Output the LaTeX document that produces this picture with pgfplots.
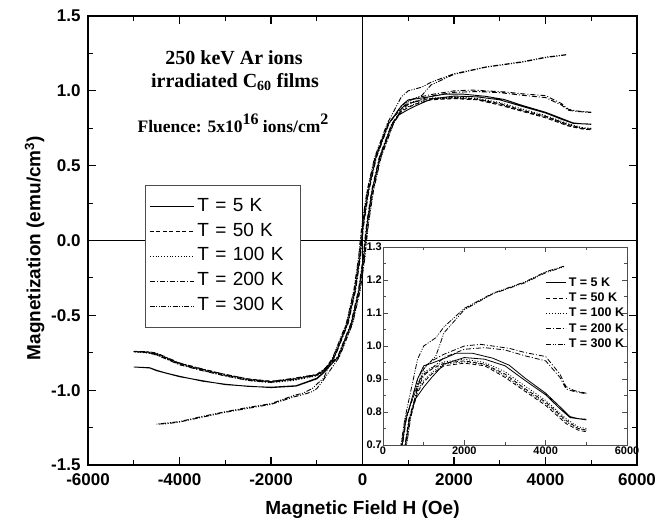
\documentclass[border=0pt]{standalone}
\usepackage{fontspec}
\setmainfont{Liberation Sans}
\newfontfamily\timesf{Liberation Serif}
\usepackage{pgfplots}
\pgfplotsset{compat=1.18}
\usepackage{pgfplotstable}

% hysteresis loops, each table = down branch then up branch
\pgfplotstableread{
x y
5000 0.778
4800 0.780
4600 0.786
4350 0.816
4000 0.857
3500 0.902
3100 0.942
2700 0.963
2200 0.978
1800 0.978
1500 0.962
1200 0.948
1000 0.940
850 0.900
565 0.778
295 0.555
130 0.333
20 0.111
-20 0.000
-55 -0.111
-160 -0.333
-325 -0.555
-615 -0.778
-850 -0.880
-1000 -0.920
-1450 -0.970
-2000 -0.980
-2500 -0.975
-3000 -0.960
-3500 -0.940
-4000 -0.907
-4300 -0.885
-4500 -0.867
-4650 -0.850
-5000 -0.845
-4650 -0.852
-4500 -0.870
-4000 -0.910
-3000 -0.963
-2000 -0.983
-1450 -0.973
-1000 -0.925
-850 -0.885
-535 -0.778
-245 -0.555
-80 -0.333
25 -0.111
60 0.000
100 0.111
210 0.333
375 0.555
645 0.778
800 0.840
1000 0.875
1200 0.905
1500 0.945
2000 0.965
2500 0.960
3000 0.940
3500 0.895
4000 0.852
4350 0.810
4600 0.783
5000 0.776
}\tfive

\pgfplotstableread{
x y
5000 0.745
4800 0.750
4500 0.775
4000 0.830
3500 0.870
3000 0.915
2500 0.945
2000 0.955
1500 0.948
1200 0.930
1000 0.915
850 0.880
545 0.778
275 0.555
110 0.333
0 0.111
-40 0
-75 -0.111
-180 -0.333
-345 -0.555
-635 -0.778
-850 -0.870
-1000 -0.900
-1500 -0.930
-2000 -0.945
-2500 -0.930
-3000 -0.900
-3500 -0.865
-4000 -0.825
-4500 -0.760
-4700 -0.750
-5000 -0.740
-4700 -0.745
-4500 -0.755
-4000 -0.820
-3500 -0.860
-3000 -0.895
-2500 -0.925
-2000 -0.940
-1500 -0.925
-1000 -0.895
-850 -0.865
-515 -0.778
-225 -0.555
-60 -0.333
45 -0.111
80 0
120 0.111
230 0.333
395 0.555
665 0.778
850 0.860
1000 0.890
1200 0.915
1500 0.940
2000 0.948
2500 0.940
3000 0.905
3500 0.862
4000 0.820
4500 0.765
4800 0.745
5000 0.740
}\tfifty

\pgfplotstableread{
x y
5000 0.750
4800 0.755
4500 0.780
4000 0.835
3500 0.878
3000 0.922
2500 0.950
2000 0.960
1500 0.952
1200 0.935
1000 0.920
850 0.885
555 0.778
285 0.555
120 0.333
10 0.111
-30 0
-65 -0.111
-170 -0.333
-335 -0.555
-625 -0.778
-850 -0.875
-1000 -0.905
-1500 -0.935
-2000 -0.950
-2500 -0.935
-3000 -0.905
-3500 -0.868
-4000 -0.828
-4500 -0.765
-4700 -0.752
-5000 -0.745
-4700 -0.748
-4500 -0.758
-4000 -0.822
-3500 -0.862
-3000 -0.898
-2500 -0.928
-2000 -0.943
-1500 -0.928
-1000 -0.898
-850 -0.868
-525 -0.778
-235 -0.555
-70 -0.333
35 -0.111
70 0
110 0.111
220 0.333
385 0.555
655 0.778
850 0.865
1000 0.895
1200 0.920
1500 0.945
2000 0.952
2500 0.944
3000 0.910
3500 0.866
4000 0.825
4500 0.770
4800 0.750
5000 0.745
}\thundred

\pgfplotstableread{
x y
5000 0.857
4700 0.865
4500 0.877
4350 0.915
4000 0.968
3500 0.980
3100 0.993
2400 1.005
2000 1.000
1500 0.975
1200 0.955
1000 0.935
850 0.900
575 0.778
305 0.555
140 0.333
30 0.111
-10 0
-45 -0.111
-150 -0.333
-315 -0.555
-605 -0.778
-850 -0.870
-1000 -0.900
-1500 -0.925
-2000 -0.948
-2500 -0.935
-3000 -0.905
-3500 -0.870
-4000 -0.830
-4500 -0.765
-4700 -0.748
-5000 -0.742
-4700 -0.742
-4500 -0.752
-4000 -0.818
-3500 -0.858
-3000 -0.895
-2500 -0.925
-2000 -0.942
-1500 -0.920
-1000 -0.895
-850 -0.862
-545 -0.778
-255 -0.555
-90 -0.333
15 -0.111
50 0
90 0.111
200 0.333
365 0.555
635 0.778
850 0.870
1000 0.910
1500 0.965
2000 0.990
2500 0.995
3000 0.988
3500 0.970
4000 0.955
4350 0.905
4500 0.870
4700 0.862
5000 0.855
}\ttwohundred

\pgfplotstableread{
x y
4450 1.242
4000 1.225
3500 1.195
2700 1.160
2000 1.114
1500 1.058
1300 1.025
1000 1.000
850 0.960
535 0.778
265 0.555
100 0.333
-10 0.111
-50 0
-85 -0.111
-190 -0.333
-355 -0.555
-645 -0.778
-850 -0.920
-1000 -0.960
-1100 -0.990
-1300 -1.020
-1500 -1.035
-2000 -1.090
-2500 -1.115
-3000 -1.144
-3500 -1.175
-4000 -1.210
-4300 -1.220
-4500 -1.227
-4300 -1.225
-4000 -1.213
-3000 -1.148
-2000 -1.095
-1500 -1.045
-1300 -1.030
-1100 -1.010
-1000 -0.990
-850 -0.930
-505 -0.778
-215 -0.555
-50 -0.333
55 -0.111
90 0
130 0.111
240 0.333
405 0.555
675 0.778
850 0.880
1000 0.930
1300 0.970
1500 1.040
2000 1.110
2700 1.158
3500 1.192
4000 1.222
4450 1.240
}\tthreehundred

\pgfplotsset{
  /pgf/number format/assume math mode=true,
  s5/.style={black, line width=0.9pt, solid},
  s50/.style={black, line width=0.9pt, dash pattern=on 4pt off 2.5pt},
  s100/.style={black, line width=0.9pt, dash pattern=on 1pt off 1.8pt},
  s200/.style={black, line width=0.9pt, dash pattern=on 5pt off 2pt on 1pt off 2pt},
  s300/.style={black, line width=0.9pt, dash pattern=on 5pt off 1.5pt on 1pt off 1.5pt on 1pt off 1.5pt},
}

\begin{document}
\begin{tikzpicture}[x=1pt,y=1pt]
\useasboundingbox (0pt,0pt) rectangle (665pt,-525pt);
\begin{axis}[
  at={(88pt,-465pt)}, anchor=south west,
  scale only axis, width=549pt, height=449pt,
  xmin=-6000, xmax=6000, ymin=-1.5, ymax=1.5,
  xtick={-6000,-4000,...,6000}, minor x tick num=1,
  ytick={-1.5,-1,...,1.5}, minor y tick num=1,
  scaled x ticks=false,
  tick align=inside,
  major tick length=8pt, minor tick length=5pt,
  every tick/.style={black, line width=1.1pt},
  axis line style={line width=1.3pt},
  ticklabel style={font=\fontsize{17}{17}\selectfont\bfseries},
  xticklabel style={/pgf/number format/1000 sep={}, yshift=-5pt},
  yticklabel style={/pgf/number format/fixed, /pgf/number format/fixed zerofill, /pgf/number format/precision=1, xshift=-4pt},
  xlabel={Magnetic Field H (Oe)},
  ylabel={Magnetization (emu/cm\textsuperscript{3})},
  xlabel style={font=\fontsize{19}{19}\selectfont\bfseries, yshift=-8pt},
  ylabel style={font=\fontsize{19}{19}\selectfont\bfseries, at={(ticklabel cs:0.483)}},
  legend style={at={(0.104,0.6236)}, anchor=north west,
    draw=gray!60!black, line width=0.8pt,
    font=\fontsize{19}{19}\selectfont,
    inner xsep=4pt, inner ysep=9pt,
    nodes={text height=13.5pt, text depth=4.5pt, inner ysep=3.4pt, inner xsep=3pt, text width=96pt},
    row sep=0pt},
  legend cell align=left,
  legend image code/.code={\draw[#1] (0pt,0pt) -- (44pt,0pt);},
]
\draw[line width=1.3pt] (axis cs:-6000,0) -- (axis cs:6000,0);
\draw[line width=1.3pt] (axis cs:0,-1.5) -- (axis cs:0,1.5);
\addplot[s5] table {\tfive};
\addlegendentry{T = 5 K}
\addplot[s50] table {\tfifty};
\addlegendentry{T = 50 K}
\addplot[s100] table {\thundred};
\addlegendentry{T = 100 K}
\addplot[s200] table {\ttwohundred};
\addlegendentry{T = 200 K}
\addplot[s300] table {\tthreehundred};
\addlegendentry{T = 300 K}
\end{axis}

\node[font=\timesf\bfseries\fontsize{20}{20}\selectfont] at (234pt,-58pt) {250 keV Ar ions};
\node[font=\timesf\bfseries\fontsize{20}{20}\selectfont] at (235pt,-82pt) {irradiated C\textsubscript{60} films};
\node[font=\timesf\bfseries\fontsize{17.5}{17.5}\selectfont] at (233pt,-123pt) {Fluence: 5x10\raisebox{0.45em}{\fontsize{16}{16}\selectfont 16} ions/cm\raisebox{0.45em}{\fontsize{16}{16}\selectfont 2}};

\begin{axis}[
  at={(383pt,-445pt)}, anchor=south west,
  scale only axis, width=244pt, height=198pt,
  xmin=0, xmax=6000, ymin=0.7, ymax=1.3,
  xtick={0,2000,4000,6000}, minor x tick num=1,
  ytick={0.7,0.8,...,1.3}, minor y tick num=1,
  scaled x ticks=false,
  tick align=inside,
  major tick length=5pt, minor tick length=3pt,
  every tick/.style={gray!60!black, line width=0.8pt},
  axis line style={gray!60!black, line width=0.9pt},
  axis background/.style={fill=white},
  ticklabel style={font=\fontsize{11}{11}\selectfont\bfseries},
  xticklabel style={/pgf/number format/1000 sep={}, inner ysep=1.5pt},
  yticklabel style={/pgf/number format/fixed, /pgf/number format/fixed zerofill, /pgf/number format/precision=1, inner xsep=1pt},
  legend style={at={(0.655,0.87)}, anchor=north west, draw=none, fill=none,
    font=\fontsize{12.5}{12.5}\selectfont\bfseries,
    nodes={text height=9pt, text depth=2pt, inner ysep=2.2pt, inner xsep=2pt},
    row sep=0pt},
  legend cell align=left,
  legend image code/.code={\draw[#1] (0pt,0pt) -- (20pt,0pt);},
]
\addplot[s5, line width=0.8pt] table {\tfive};
\addlegendentry{T = 5 K}
\addplot[s50, line width=0.8pt] table {\tfifty};
\addlegendentry{T = 50 K}
\addplot[s100, line width=0.8pt] table {\thundred};
\addlegendentry{T = 100 K}
\addplot[s200, line width=0.8pt] table {\ttwohundred};
\addlegendentry{T = 200 K}
\addplot[s300, line width=0.8pt] table {\tthreehundred};
\addlegendentry{T = 300 K}
\end{axis}
\end{tikzpicture}
\end{document}
